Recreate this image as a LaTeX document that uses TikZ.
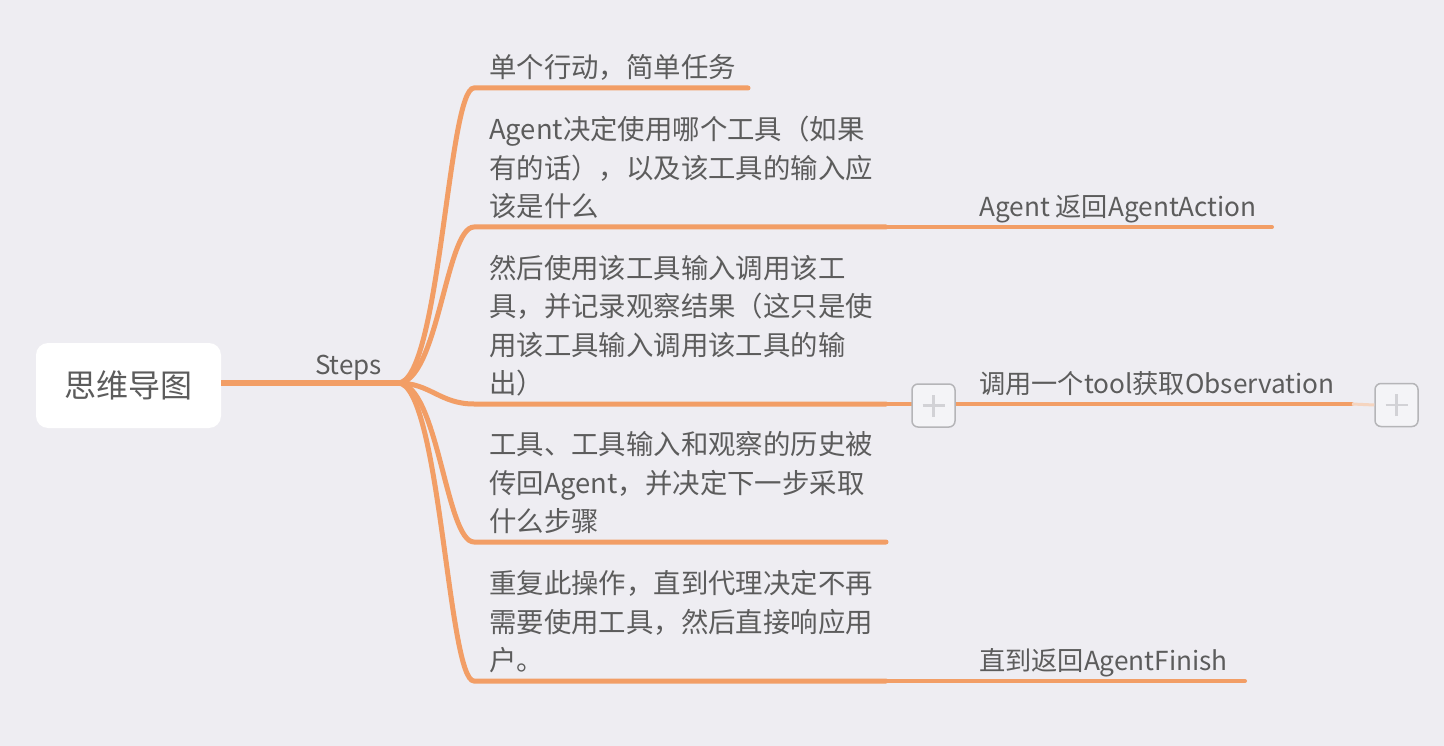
\documentclass[tikz,border=0pt]{standalone}
\usepackage{fontspec}
\setmainfont{Noto Sans CJK SC}
\definecolor{bgcol}{HTML}{EEEDF2}
\definecolor{branch}{HTML}{F29E66}
\definecolor{fadebr}{HTML}{F5D5C0}
\definecolor{txt}{HTML}{5C5C5C}
\definecolor{plusedge}{HTML}{B5B5B8}
\definecolor{plusfill}{HTML}{F4F4F7}
\definecolor{plusbar}{HTML}{D2D2D6}
\tikzset{
  item/.style={anchor=south west, inner sep=0pt, align=left, text=txt,
    font=\fontsize{27.4}{38.5}\selectfont, text depth=5pt},
  result/.style={item, font=\fontsize{26.2}{38.5}\selectfont},
  twig/.style={draw=branch, line width=5pt, line cap=round},
  plusbox/.style={draw=plusedge, fill=plusfill, line width=1.5pt, rounded corners=6pt,
    minimum width=43pt, minimum height=43pt, inner sep=0pt}
}
\begin{document}
\begin{tikzpicture}[x=1pt,y=-1pt]
  \fill[bgcol] (0,0) rectangle (1444,746);
  \useasboundingbox (0,0) rectangle (1444,746);

  % root and hub
  \node[fill=white, rounded corners=12pt, minimum width=185pt, minimum height=85pt,
    text=txt, font=\fontsize{32}{32}\selectfont] (root) at (128.5,385.5) {思维导图};
  \coordinate (hub) at (398,383);
  \draw[twig, line width=6pt, line cap=butt] (root.east |- hub) -- (hub)
    node [pos=0.72, above=-4pt, text=txt, font=\fontsize{26}{26}\selectfont] (steps) {Steps};

  % underline ends
  \coordinate (s1) at (474,88);   \coordinate (e1) at (748,88);
  \coordinate (s2) at (474,227);  \coordinate (e2) at (886,227);
  \coordinate (s3) at (474,404);  \coordinate (e3) at (886,404);
  \coordinate (s4) at (474,542);  \coordinate (e4) at (886,542);
  \coordinate (s5) at (474,681);  \coordinate (e5) at (886,681);

  % branches
  \draw[twig] (hub) .. controls (440,383) and (448,88) .. (s1) -- (e1);
  \draw[twig] (hub) .. controls (438,383) and (446,227) .. (s2) -- (e2);
  \draw[twig] (hub) .. controls (430,383) and (440,404) .. (s3) -- (e3);
  \draw[twig] (hub) .. controls (438,383) and (446,542) .. (s4) -- (e4);
  \draw[twig] (hub) .. controls (440,383) and (448,681) .. (s5) -- (e5);

  % step texts
  \node[item] (t1) at (489,83) {单个行动，简单任务};
  \node[item] (t2) at (489,222) {Agent决定使用哪个工具（如果\\有的话），以及该工具的输入应\\该是什么};
  \node[item] (t3) at (489,399) {然后使用该工具输入调用该工\\具，并记录观察结果（这只是使\\用该工具输入调用该工具的输\\出）};
  \node[item] (t4) at (489,537) {工具、工具输入和观察的历史被\\传回Agent，并决定下一步采取\\什么步骤};
  \node[item] (t5) at (489,676) {重复此操作，直到代理决定不再\\需要使用工具，然后直接响应用\\户。};

  % results
  \coordinate (r2) at (1272,227);
  \coordinate (r3) at (1352,404);
  \coordinate (r5) at (1245,681);
  \draw[twig, line width=4pt] (e2) -- (r2);
  \draw[twig, line width=4pt] (e3) -- (r3);
  \draw[twig, line width=4pt] (e5) -- (r5);
  \node[result] (a2) at (979,222) {Agent 返回AgentAction};
  \node[result] (a3) at (979,399) {调用一个tool获取Observation};
  \node[result] (a5) at (979,676) {直到返回AgentFinish};

  % collapse buttons
  \node[plusbox] (p1) at (933.5,405.5) {};
  \node[plusbox] (p2) at (1396.5,405) {};
  \draw[fadebr, line width=3pt] (r3) -- (p2.west);
  \foreach \p in {p1,p2} {
    \draw[plusbar, line width=2.5pt] ([xshift=-11pt]\p.center) -- ([xshift=11pt]\p.center);
    \draw[plusbar, line width=2.5pt] ([yshift=-11pt]\p.center) -- ([yshift=11pt]\p.center);
  }
\end{tikzpicture}
\end{document}
